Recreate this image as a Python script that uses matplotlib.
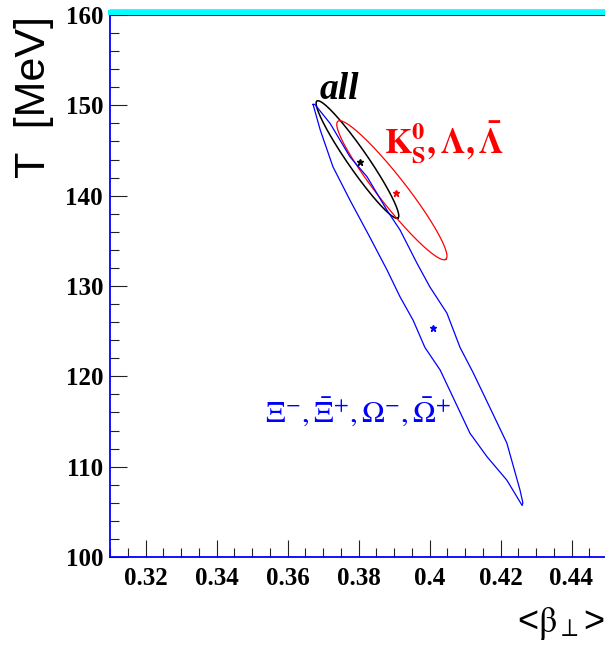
import numpy as np
import matplotlib
matplotlib.use("Agg")
import matplotlib.pyplot as plt
from matplotlib.lines import Line2D
from matplotlib.ticker import MultipleLocator, FuncFormatter

# best-fit points (<beta_T>, T) for the three particle sets
beta_best = [0.3804, 0.3906, 0.4011]
temp_best = [143.7, 140.3, 125.4]
set_colors = ["black", "red", "blue"]

# 1-sigma contours of "all" and K0S/Lambda fits: centre + conjugate half-axes (beta, T)
all_center = (0.3797, 144.0)
all_major = (0.01141, -6.48)
all_minor = (0.00231, 0.63)

k0_center = (0.3894, 140.6)
k0_major = (0.01521, -7.64)
k0_minor = (0.00310, 0.96)

# contour of the multi-strange fit
xi_beta = [0.3672, 0.3692, 0.3728, 0.3776, 0.3832, 0.3880, 0.3917, 0.3954,
           0.3987, 0.4030, 0.4066, 0.4114, 0.4162, 0.4218, 0.4261, 0.4263,
           0.4255, 0.4218, 0.4156, 0.4123, 0.4086, 0.4049, 0.4001, 0.3965,
           0.3917, 0.3880, 0.3824, 0.3776, 0.3720, 0.3677, 0.3672]
xi_temp = [150.1, 147.3, 143.2, 139.5, 135.4, 131.8, 128.8, 126.2,
           123.2, 120.7, 117.7, 113.7, 111.1, 108.5, 105.7, 106.0,
           107.4, 112.6, 117.7, 120.4, 123.2, 127.0, 129.9, 132.5,
           136.2, 138.4, 142.1, 144.3, 148.0, 150.1, 150.1]

x_ticks = [0.32, 0.34, 0.36, 0.38, 0.40, 0.42, 0.44]
y_ticks = [100, 110, 120, 130, 140, 150, 160]


def ellipse(center, major, minor, n=200):
    t = np.linspace(0, 2 * np.pi, n)
    x = center[0] + major[0] * np.cos(t) + minor[0] * np.sin(t)
    y = center[1] + major[1] * np.cos(t) + minor[1] * np.sin(t)
    return x, y


fig = plt.figure(figsize=(6.05, 6.54), dpi=100)
ax = fig.add_axes([110 / 605, 1 - 557 / 654, 497 / 605, 542 / 654])

bx, by = ellipse(all_center, all_major, all_minor)
ax.plot(bx, by, color="black", lw=1.1)
rx, ry = ellipse(k0_center, k0_major, k0_minor)
ax.plot(rx, ry, color="red", lw=0.9)
ax.plot(xi_beta, xi_temp, color="blue", lw=0.9)

for b, t, c in zip(beta_best, temp_best, set_colors):
    ax.plot(b, t, marker="*", color=c, ms=5, ls="none")

ax.text(0.3690, 150.7, "all", fontsize=27, family="Liberation Serif",
        style="italic", weight="bold", color="black")
ax.text(0.3872, 144.7, r"$\mathbf{K^{0}_{S},\Lambda,\bar{\Lambda}}$",
        fontsize=25, color="red", math_fontfamily="stix")
ax.text(0.3537, 114.9, r"$\Xi^{-},\bar{\Xi}^{+},\Omega^{-},\bar{\Omega}^{+}$",
        fontsize=22, color="blue", math_fontfamily="stix")

ax.set_xlim(0.31, 0.45)
ax.set_ylim(100, 160)
ax.set_xticks(x_ticks)
ax.set_yticks(y_ticks)
ax.xaxis.set_minor_locator(MultipleLocator(0.005))
ax.yaxis.set_minor_locator(MultipleLocator(2))
ax.xaxis.set_major_formatter(FuncFormatter(lambda v, p: f"{v:g}"))
ax.yaxis.set_major_formatter(FuncFormatter(lambda v, p: f"{v:g}"))
ax.tick_params(which="both", direction="in", color="#222222", width=0.8)
ax.tick_params(which="major", length=12.5)
ax.tick_params(which="minor", length=6.5)
ax.tick_params(axis="x", pad=7)
ax.tick_params(axis="y", pad=5)
for lab in ax.get_xticklabels() + ax.get_yticklabels():
    lab.set_family("Liberation Serif")
    lab.set_weight("bold")
    lab.set_fontsize(18)

for side in ["left", "bottom", "top", "right"]:
    ax.spines[side].set_color("#0000ff")
    ax.spines[side].set_linewidth(1.3)

# cyan band over the top frame
fig.add_artist(Line2D([110 / 605, 1.0], [1 - 11.5 / 654] * 2,
                      color="#00ffff", lw=3.6))
fig.add_artist(Line2D([110 / 605, 1.0], [1 - 8.8 / 654] * 2,
                      color="#b8b8ff", lw=0.8))

fig.text(34 / 605, 1 - 16 / 654, "T  [MeV]", rotation=90, ha="center",
         va="top", family="Liberation Sans", fontsize=31)
fig.text(0.999, 1 - 632 / 654, r"<$\mathrm{\beta}_{\perp}$>", ha="right",
         va="baseline", family="Liberation Sans", fontsize=26,
         math_fontfamily="stix")

fig.savefig("out.png", dpi=100)
